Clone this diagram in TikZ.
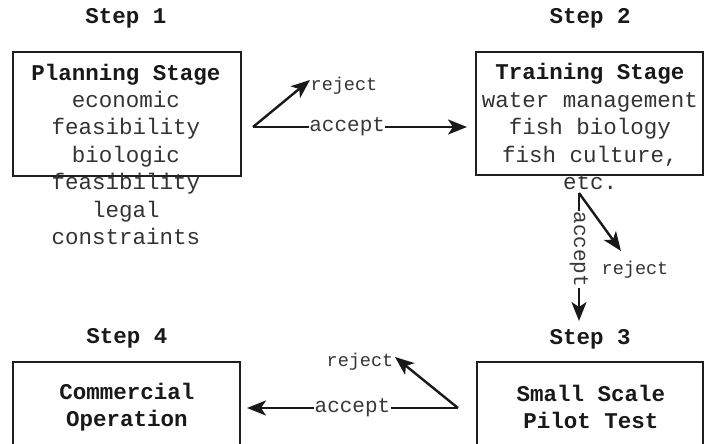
\documentclass[tikz,border=0pt]{standalone}
\usepackage{fontspec}
\setmainfont{Liberation Mono}
\usetikzlibrary{arrows.meta}
\begin{document}
\begin{tikzpicture}[x=1pt,y=-1pt,
  box/.style={draw=black!88, line width=2.2pt, inner sep=0pt},
  title/.style={font=\fontsize{22.5}{27}\selectfont\bfseries, text=black!90, inner sep=0pt, anchor=base},
  body/.style={font=\fontsize{22.5}{27.4}\selectfont, text=black!80, inner sep=0pt, anchor=base, align=center},
  arr/.style={line width=2.4pt, draw=black!90, -{Stealth[length=19pt,width=15pt,inset=5pt]}},
  lab/.style={font=\fontsize{21}{24}\selectfont, text=black!78, fill=white, inner sep=0.5pt},
  rlab/.style={font=\fontsize{18.5}{22}\selectfont, text=black!80, inner sep=0pt, anchor=base}]
\clip (0,0) rectangle (704,444);
% step labels
\node[title] (s1) at (126,24) {Step 1};
\node[title] (s2) at (590,24) {Step 2};
\node[title] (s3) at (590,344) {Step 3};
\node[title] (s4) at (127,343) {Step 4};
% boxes
\node[box, minimum width=228pt, minimum height=124pt] (b1) at (127,114) {};
\node[box, minimum width=227pt, minimum height=123pt] (b2) at (589.5,113.5) {};
\node[box, minimum width=226pt, minimum height=120pt] (b3) at (590,422) {};
\node[box, minimum width=227pt, minimum height=120pt] (b4) at (126.5,422) {};
% box texts (base anchor = baseline of last line)
\node[body] (t1) at (126,244.5) {\textbf{\textcolor{black!90}{Planning Stage}}\\economic\\feasibility\\biologic\\feasibility\\legal\\constraints};
\node[body] (t2) at (590,189.5) {\textbf{\textcolor{black!90}{Training Stage}}\\water management\\fish biology\\fish culture,\\etc.};
\node[title, align=center] (t3) at (591,428) {Small Scale\\Pilot Test};
\node[title, align=center] (t4) at (127,426) {Commercial\\Operation};
% top decision
\coordinate (p1) at (253,127);
\coordinate (q1) at (467,127);
\coordinate (r1) at (310,80);
\draw[arr] (p1) -- node[lab, pos=0.44] (la1) {accept} (q1);
\draw[arr] (p1) -- (r1);
\node[rlab] (lr1) at (344,90) {reject};
% right decision
\coordinate (p2) at (579,193);
\coordinate (q2) at (579,321);
\coordinate (r2) at (621,251);
\draw[arr] (p2) -- node[lab, pos=0.44, rotate=-90] (la2) {accept} (q2);
\draw[arr] (p2) -- (r2);
\node[rlab] (lr2) at (635,274) {reject};
% bottom decision
\coordinate (p3) at (458,408);
\coordinate (q3) at (247,408);
\coordinate (r3) at (395,357);
\draw[arr] (p3) -- node[lab, pos=0.5] (la3) {accept} (q3);
\draw[arr] (p3) -- (r3);
\node[rlab] (lr3) at (360,366) {reject};
\end{tikzpicture}
\end{document}
